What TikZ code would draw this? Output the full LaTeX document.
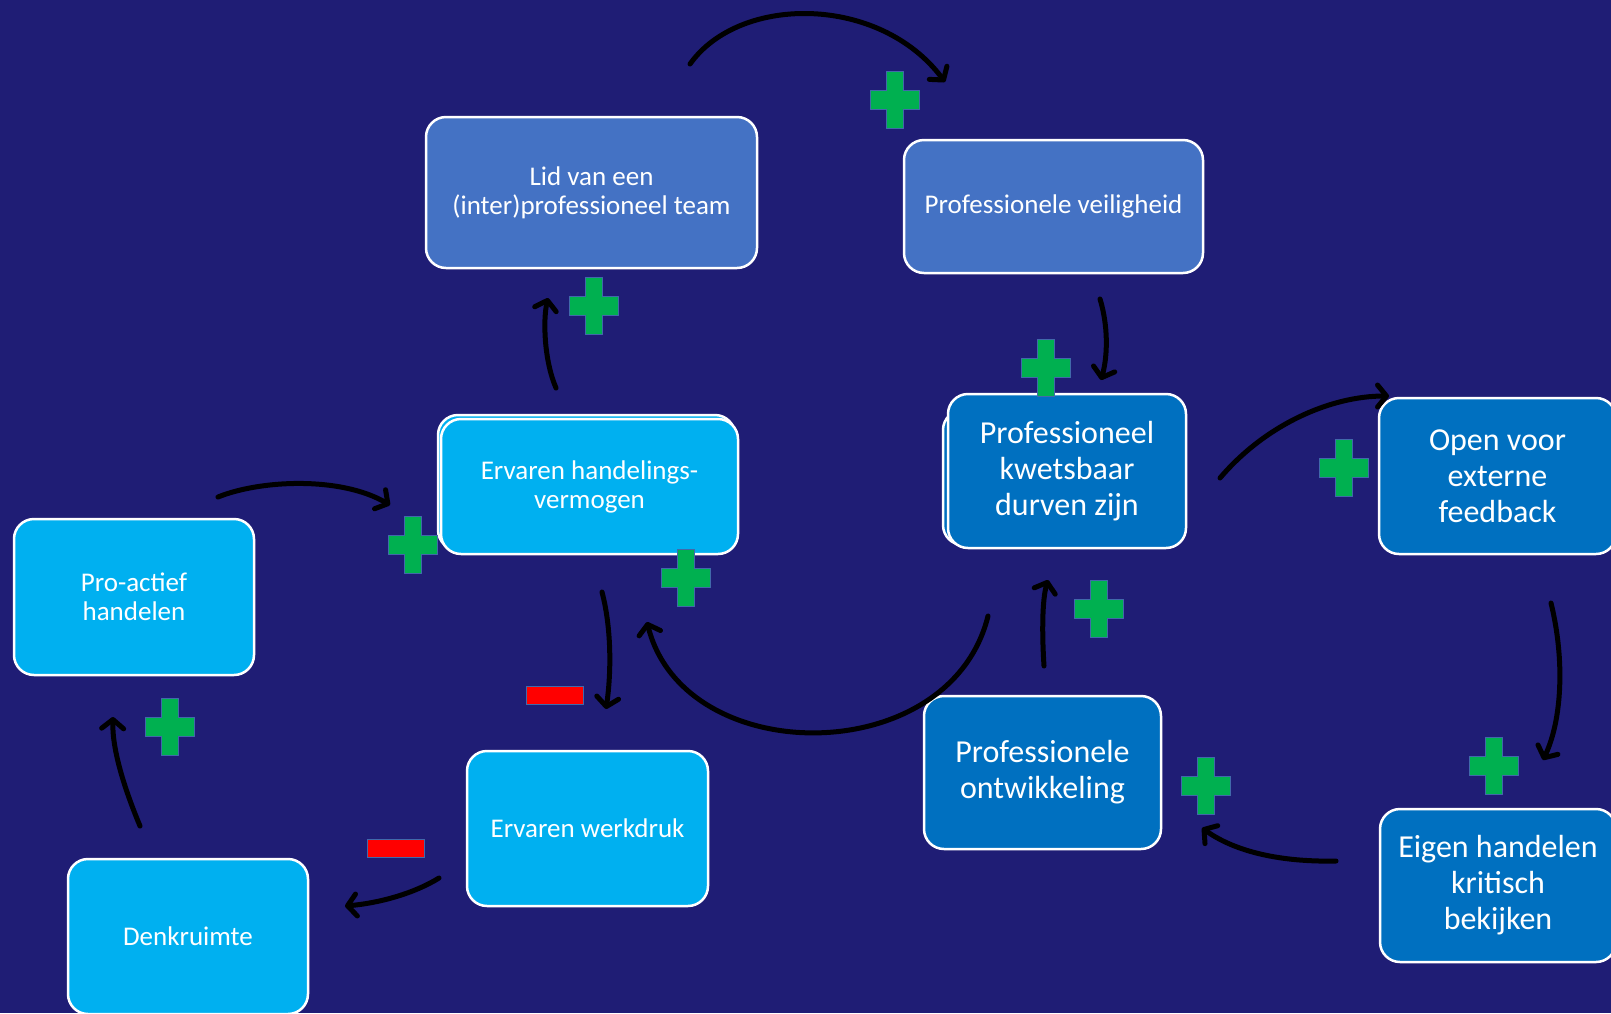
\documentclass[tikz,border=0pt]{standalone}
\usepackage{fontspec}
\setmainfont{Carlito}
\usetikzlibrary{arrows.meta}
\definecolor{achter}{RGB}{31,29,117}
\definecolor{grijsblauw}{RGB}{68,114,196}
\definecolor{lichtblauw}{RGB}{0,176,240}
\definecolor{donkerblauw}{RGB}{0,112,192}
\definecolor{plusgroen}{RGB}{0,176,80}
\definecolor{randblauw}{RGB}{65,105,170}
\tikzset{
  blok/.style = {rounded corners=20pt, draw=white, line width=2.5pt, align=center, text=white, inner sep=0pt},
  klein/.style = {font=\fontsize{27}{29}\selectfont},
  groot/.style = {font=\fontsize{32}{36}\selectfont},
  pijl/.style = {line width=5pt, line cap=round, -{Straight Barb[length=9pt,width=22pt,line cap=round,line join=round]}},
  min/.style = {fill=red, draw=randblauw, line width=1pt, minimum width=57pt, minimum height=18pt, inner sep=0pt},
  plusteken/.pic = {
    \filldraw[fill=plusgroen, draw=randblauw, line width=0.8pt]
      (-8.5,-28.5) -- (8.5,-28.5) -- (8.5,-9.5) -- (24.5,-9.5) -- (24.5,9.5) -- (8.5,9.5)
      -- (8.5,28.5) -- (-8.5,28.5) -- (-8.5,9.5) -- (-24.5,9.5) -- (-24.5,-9.5) -- (-8.5,-9.5) -- cycle;
  }
}
\begin{document}
\begin{tikzpicture}[x=1pt,y=-1pt]
            \fill[achter] (0,0) rectangle (1611,1013);
            \useasboundingbox (0,0) rectangle (1611,1013);

            \begin{scope}[every node/.style = {blok}]
                \node[fill=grijsblauw, klein, minimum width=331pt, minimum height=151pt] (lid) at (591.5,192.5) {Lid van een\\(inter)professioneel team};
                \node[fill=grijsblauw, klein, minimum width=299pt, minimum height=133pt] (veilig) at (1053.5,206.5) {Professionele veiligheid};
                \node[fill=lichtblauw, draw=white, minimum width=297pt, minimum height=135pt] (handelachter) at (586.5,482.5) {};
                \node[fill=lichtblauw, klein, minimum width=297pt, minimum height=135pt] (handel) at (589.5,486.5) {Ervaren handelings-\\vermogen};
                \node[fill=donkerblauw, minimum width=237pt, minimum height=135pt] (kwetsachter) at (1061.5,477.5) {};
                \node[fill=donkerblauw, groot, minimum width=238pt, minimum height=154pt] (kwets) at (1067,471) {Professioneel\\kwetsbaar\\durven zijn};
                \node[fill=donkerblauw, groot, minimum width=237pt, minimum height=156pt] (open) at (1497.5,476) {Open voor\\externe\\feedback};
                \node[fill=lichtblauw, klein, minimum width=240pt, minimum height=156pt] (pro) at (134,597) {Pro-actief\\handelen};
                \node[fill=lichtblauw, klein, minimum width=241pt, minimum height=155pt] (werk) at (587.5,828.5) {Ervaren werkdruk};
                \node[fill=lichtblauw, klein, minimum width=240pt, minimum height=155pt] (denk) at (188,936.5) {Denkruimte};
                \node[fill=donkerblauw, groot, minimum width=237pt, minimum height=153pt] (ontw) at (1042.5,772.5) {Professionele\\ontwikkeling};
                \node[fill=donkerblauw, groot, minimum width=236pt, minimum height=153pt] (eigen) at (1498,885.5) {Eigen handelen\\kritisch\\bekijken};
            \end{scope}

            \coordinate (a1) at (690,64);   \coordinate (b1) at (945,82);
            \coordinate (a2) at (556,388);  \coordinate (b2) at (548,298);
            \coordinate (a3) at (1100,299); \coordinate (b3) at (1101,380);
            \coordinate (a4) at (1220,478); \coordinate (b4) at (1389,396);
            \coordinate (a5) at (1551,603); \coordinate (b5) at (1543,760);
            \coordinate (a6) at (1336,861); \coordinate (b6) at (1202,828);
            \coordinate (a7) at (1044,666); \coordinate (b7) at (1048,580);
            \coordinate (a8) at (988,616);  \coordinate (b8) at (647,622);
            \coordinate (a9) at (602,592);  \coordinate (b9) at (606,709);
            \coordinate (a10) at (439,878); \coordinate (b10) at (345,906);
            \coordinate (a11) at (140,826); \coordinate (b11) at (113,717);
            \coordinate (a12) at (218,497); \coordinate (b12) at (390,505);

            \begin{scope}[every path/.style = {pijl}]
                \draw (a1) .. controls (740,-6) and (880,-5) .. (b1);
                \draw (a2) .. controls (544,360) and (543,320) .. (b2);
                \draw (a3) .. controls (1108,325) and (1108,355) .. (b3);
                \draw (a4) .. controls (1265,425) and (1330,396) .. (b4);
                \draw (a5) .. controls (1565,660) and (1562,720) .. (b5);
                \draw (a6) .. controls (1290,862) and (1240,855) .. (b6);
                \draw (a7) .. controls (1042,635) and (1042,600) .. (b7);
                \draw (a8) .. controls (950,770) and (684,770) .. (b8);
                \draw (a9) .. controls (612,630) and (611,675) .. (b9);
                \draw (a10) .. controls (415,893) and (380,903) .. (b10);
                \draw (a11) .. controls (125,790) and (112,750) .. (b11);
                \draw (a12) .. controls (260,480) and (340,476) .. (b12);
            \end{scope}

            \pic at (895,100) {plusteken};
            \pic at (594,306) {plusteken};
            \pic at (1046,368) {plusteken};
            \pic at (1344,468) {plusteken};
            \pic at (413,545) {plusteken};
            \pic at (686,578) {plusteken};
            \pic at (1099,609) {plusteken};
            \pic at (169.5,727) {plusteken};
            \pic at (1206,786) {plusteken};
            \pic at (1494,766) {plusteken};

            \node[min] (min1) at (555,695.5) {};
            \node[min] (min2) at (395.5,848) {};
\end{tikzpicture}
\end{document}
